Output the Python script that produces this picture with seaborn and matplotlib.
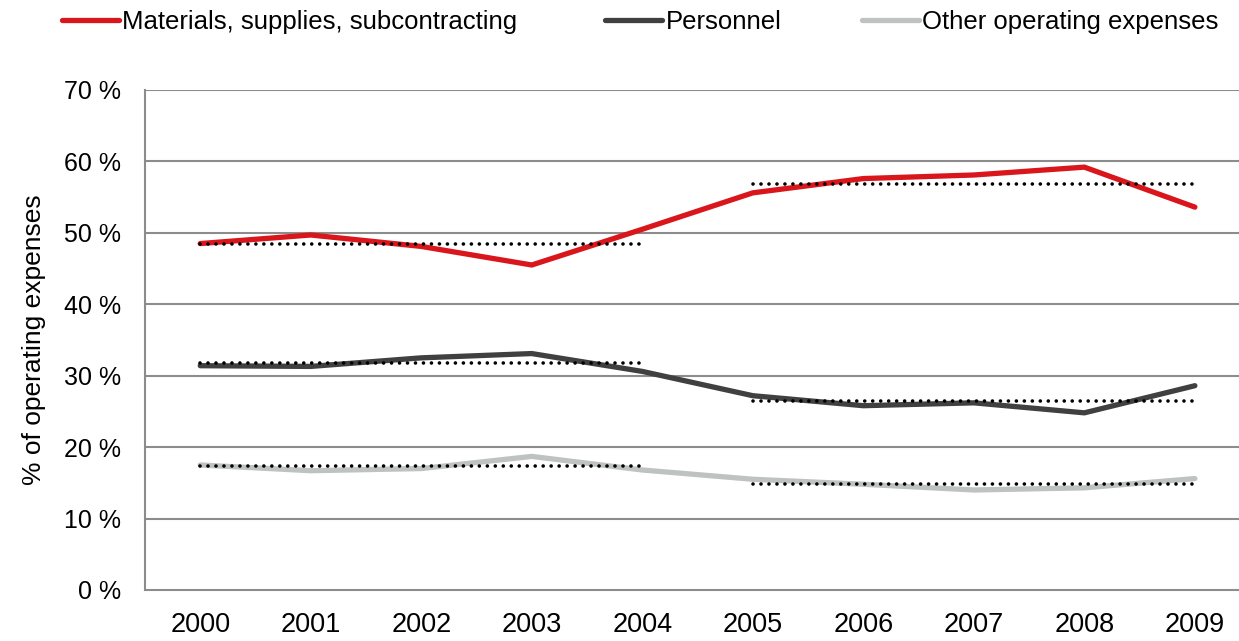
import matplotlib
matplotlib.use("Agg")
import matplotlib.pyplot as plt
from matplotlib.lines import Line2D
from matplotlib.ticker import FixedLocator, FuncFormatter, NullFormatter
import numpy as np
import pandas as pd
import seaborn as sns

# ====================== data ======================
years = ["2000", "2001", "2002", "2003", "2004",
         "2005", "2006", "2007", "2008", "2009"]
series_names = ["Materials, supplies, subcontracting", "Personnel",
                "Other operating expenses"]
materials = [48.5, 49.7, 48.1, 45.5, 50.5, 55.6, 57.6, 58.1, 59.2, 53.6]
personnel = [31.4, 31.3, 32.5, 33.1, 30.6, 27.2, 25.8, 26.2, 24.8, 28.6]
other_opex = [17.5, 16.7, 17.0, 18.7, 16.8, 15.5, 14.8, 14.0, 14.3, 15.6]
# two periods for the dotted average lines
periods = [("2000", "2004"), ("2005", "2009")]
y_ticks = [0, 10, 20, 30, 40, 50, 60, 70]

# ====================== style ======================
RED = "#D9161C"
DARK = "#404040"
LIGHT = "#BEC2C1"
GRID = "#8C8C8C"
PALETTE = dict(zip(series_names, [RED, DARK, LIGHT]))

sns.set_style("white")
plt.rcParams["font.family"] = ["Liberation Sans", "DejaVu Sans"]
plt.rcParams["text.color"] = "black"
plt.rcParams["axes.labelcolor"] = "black"
plt.rcParams["xtick.color"] = "black"
plt.rcParams["ytick.color"] = "black"

df = pd.DataFrame({
    "pos": list(range(len(years))) * 3,
    "value": materials + personnel + other_opex,
    "series": [s for s in series_names for _ in years],
})

fig = plt.figure(figsize=(12.39, 6.41), dpi=100)
ax = fig.add_axes([0.117, 0.0796, 0.892, 0.78])

# horizontal grid first so the lines sit above it
for v in y_ticks[1:]:
    ax.axhline(v, color=GRID, lw=1.5, zorder=0)

sns.lineplot(data=df, x="pos", y="value", hue="series", hue_order=series_names,
             palette=PALETTE, linewidth=3.8, legend=False, ax=ax,
             solid_capstyle="round", solid_joinstyle="miter", zorder=3)

# period averages as dotted lines
for vals in (materials, personnel, other_opex):
    for start, end in periods:
        i0, i1 = years.index(start), years.index(end)
        avg = np.mean(vals[i0:i1 + 1])
        ax.plot([i0, i1], [avg, avg], color="black", lw=2.6,
                dashes=(0.01, 2.2), dash_capstyle="round", zorder=4)

# axes
ax.set_xlim(-0.5, len(years) - 0.5)
ax.set_ylim(0, 70)
ax.set_xlabel("")
ax.set_ylabel("% of operating expenses", fontsize=19, labelpad=13)

ax.xaxis.set_major_locator(FixedLocator(np.arange(-0.5, len(years))))
ax.xaxis.set_major_formatter(NullFormatter())
ax.xaxis.set_minor_locator(FixedLocator(np.arange(len(years))))
ax.set_xticklabels(years, minor=True)
ax.tick_params(axis="x", which="major", length=5, width=1.5, color=GRID,
               direction="out")
ax.tick_params(axis="x", which="minor", length=0, pad=16, labelsize=19.5)

ax.set_yticks(y_ticks)
ax.yaxis.set_major_formatter(FuncFormatter(lambda v, _: f"{v:.0f} %"))
ax.tick_params(axis="y", length=6, width=1.5, color=GRID, direction="out",
               pad=11, labelsize=18)

for side in ("top", "right"):
    ax.spines[side].set_visible(False)
for side in ("left", "bottom"):
    ax.spines[side].set_color(GRID)
    ax.spines[side].set_linewidth(1.5)

# legend entries, placed like the original (uneven spacing)
legend_x = [62 / 1239, 605 / 1239, 862 / 1239]
for name, lx in zip(series_names, legend_x):
    h = Line2D([], [], color=PALETTE[name], lw=3.8, solid_capstyle="round")
    fig.legend([h], [name], loc="center left", bbox_to_anchor=(lx, 0.966),
               frameon=False, borderpad=0, borderaxespad=0,
               handlelength=2.2, handletextpad=0.15,
               prop={"family": ["Liberation Sans", "DejaVu Sans"],
                     "size": 18.5})

fig.savefig("out.png", dpi=100, facecolor="white")
